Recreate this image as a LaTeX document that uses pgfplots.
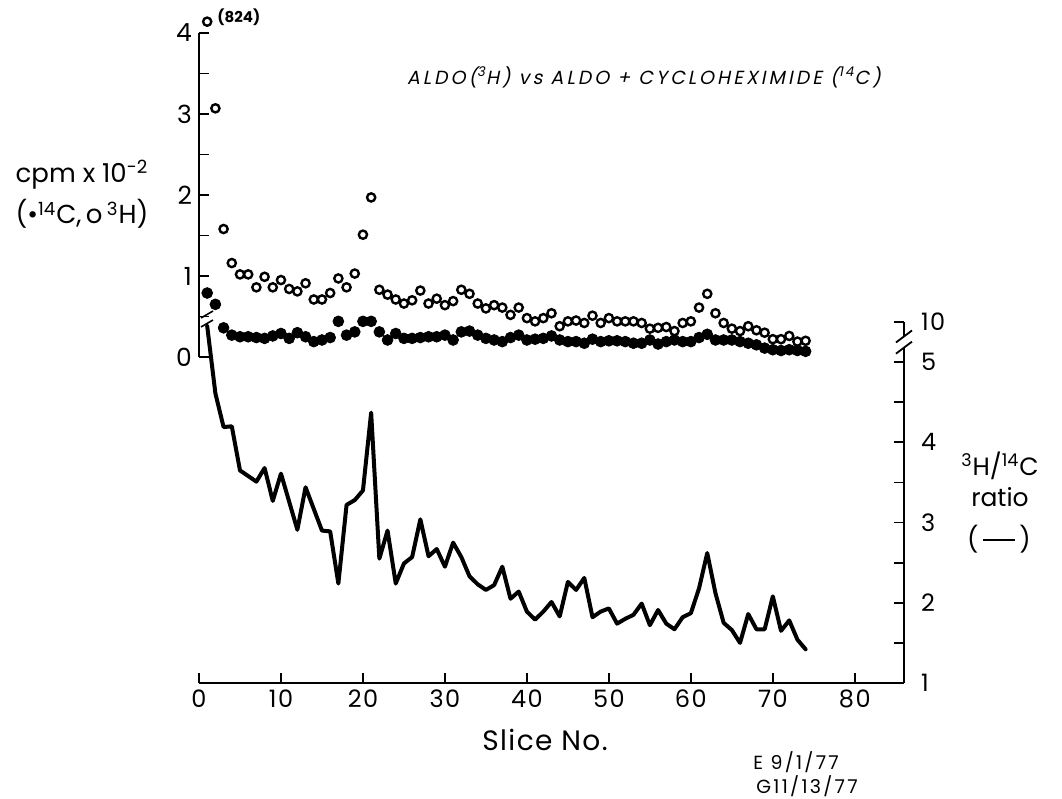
\documentclass[border=0pt]{standalone}
\usepackage{fontspec}
\setmainfont{Poppins}
\newfontfamily\slantfont[FakeSlant=0.2,LetterSpace=16]{Poppins}
\newfontfamily\datefont[LetterSpace=12]{Poppins}
\newfontfamily\slicefont[LetterSpace=5]{Poppins}
\newfontfamily\tickfont[LetterSpace=6]{Poppins}
\usepackage{pgfplots}
\pgfplotsset{compat=1.18}
\usepackage{pgfplotstable}

\pgfplotstableread{
s r
1 5.45
2 4.61
3 4.19
4 4.20
5 3.65
6 3.58
7 3.51
8 3.68
9 3.27
10 3.61
11 3.26
12 2.91
13 3.44
14 3.17
15 2.90
16 2.89
17 2.24
18 3.22
19 3.28
20 3.40
21 4.37
22 2.55
23 2.90
24 2.24
25 2.49
26 2.57
27 3.04
28 2.58
29 2.67
30 2.45
31 2.75
32 2.57
33 2.33
34 2.23
35 2.16
36 2.22
37 2.45
38 2.05
39 2.14
40 1.89
41 1.79
42 1.89
43 2.01
44 1.83
45 2.26
46 2.16
47 2.31
48 1.82
49 1.89
50 1.93
51 1.74
52 1.80
53 1.85
54 1.99
55 1.72
56 1.91
57 1.74
58 1.67
59 1.82
60 1.87
61 2.18
62 2.62
63 2.12
64 1.75
65 1.66
66 1.50
67 1.86
68 1.67
69 1.67
70 2.08
71 1.65
72 1.78
73 1.54
74 1.42
}\ratiotab

\pgfplotstableread{
s h c
1 4.14 0.79
2 3.07 0.65
3 1.58 0.36
4 1.16 0.27
5 1.02 0.25
6 1.02 0.25
7 0.86 0.24
8 0.99 0.23
9 0.86 0.26
10 0.95 0.29
11 0.84 0.23
12 0.81 0.30
13 0.91 0.25
14 0.71 0.19
15 0.71 0.21
16 0.79 0.24
17 0.97 0.44
18 0.86 0.27
19 1.03 0.31
20 1.51 0.44
21 1.97 0.44
22 0.83 0.31
23 0.77 0.21
24 0.71 0.29
25 0.66 0.23
26 0.70 0.23
27 0.82 0.24
28 0.66 0.25
29 0.72 0.25
30 0.64 0.27
31 0.69 0.21
32 0.83 0.31
33 0.78 0.32
34 0.66 0.27
35 0.60 0.23
36 0.64 0.21
37 0.61 0.19
38 0.52 0.24
39 0.61 0.27
40 0.48 0.21
41 0.44 0.22
42 0.48 0.23
43 0.54 0.26
44 0.38 0.21
45 0.44 0.19
46 0.45 0.19
47 0.42 0.17
48 0.51 0.22
49 0.42 0.19
50 0.48 0.20
51 0.44 0.20
52 0.44 0.19
53 0.44 0.17
54 0.42 0.17
55 0.35 0.21
56 0.36 0.16
57 0.37 0.19
58 0.32 0.21
59 0.42 0.19
60 0.44 0.19
61 0.61 0.24
62 0.78 0.28
63 0.54 0.21
64 0.42 0.21
65 0.35 0.21
66 0.32 0.19
67 0.38 0.17
68 0.33 0.15
69 0.30 0.11
70 0.22 0.09
71 0.22 0.08
72 0.26 0.09
73 0.19 0.08
74 0.20 0.07
}\cpmtab

\begin{document}
\begin{tikzpicture}
\useasboundingbox (0,0) rectangle (531pt,399.5pt);

% ratio axis (right) with slice axis (bottom)
\begin{axis}[
  at={(99.5pt,58pt)}, anchor=south west,
  scale only axis, width=352.5pt, height=180.5pt,
  xmin=0, xmax=86, ymin=1, ymax=5.5,
  axis x line=bottom, axis y line=right,
  axis line style={line width=1.1pt,-},
  tick align=inside, major tick length=5pt,
  tick style={line width=0.9pt,black},
  xtick={0,10,...,80},
  ytick={1,1.5,...,5.5}, yticklabels={1,,2,,3,,4,,5,10},
  ticklabel style={font=\tickfont\fontsize{12}{12}\selectfont},
  /pgf/number format/assume math mode=true,
  yticklabel style={xshift=5pt},
  clip=false,
]
\addplot[black, line width=2pt, line join=round, line cap=round] table[x=s,y=r]{\ratiotab};
% axis break marks on the right axis
\draw[white, line width=3pt] (axis cs:86,5.17) -- (axis cs:86,5.33);
\draw[black, line width=0.9pt] ([xshift=-4pt,yshift=-3pt]axis cs:86,5.18) -- ([xshift=4pt,yshift=3pt]axis cs:86,5.18);
\draw[black, line width=0.9pt] ([xshift=-4pt,yshift=-3pt]axis cs:86,5.32) -- ([xshift=4pt,yshift=3pt]axis cs:86,5.32);
\end{axis}

% cpm axis (left)
\begin{axis}[
  at={(99.5pt,221pt)}, anchor=south west,
  scale only axis, width=352.5pt, height=162pt,
  xmin=0, xmax=86, ymin=0, ymax=4,
  axis x line=none, axis y line=left,
  axis line style={line width=1.1pt,-},
  tick align=inside, major tick length=5pt,
  tick style={line width=0.9pt,black},
  ytick={0,0.5,...,4}, yticklabels={0,,1,,2,,3,,4},
  ticklabel style={font=\tickfont\fontsize{12.5}{12}\selectfont},
  clip=false,
]
\addplot[only marks, mark=*, mark size=2.7pt, black] table[x=s,y=c]{\cpmtab};
\addplot[only marks, mark=*, mark size=2.05pt, mark options={draw=black, fill=white, line width=1.2pt}] table[x=s,y=h]{\cpmtab};
\node[anchor=west, inner sep=0pt, font=\bfseries\fontsize{7.5}{8}\selectfont] at (axis cs:2.2,4.19) {(824)};
\end{axis}

% break mark on ratio line
\draw[line width=0.8pt] (100.5pt,236pt) -- (106.5pt,239.5pt);
\draw[line width=0.8pt] (100.5pt,240.5pt) -- (106.5pt,244pt);

% texts
\node[font=\fontsize{13}{14}\selectfont] at (41pt,312pt) {cpm x 10\textsuperscript{-2}};
\node[font=\fontsize{13}{14}\selectfont] at (41pt,292.5pt) {(•\textsuperscript{14}C,\,o\,\textsuperscript{3}H)};
\node[anchor=west, font=\slantfont\fontsize{9.5}{10}\selectfont] at (200pt,361pt) {ALDO(\textsuperscript{3}H) vs ALDO + CYCLOHEXIMIDE (\textsuperscript{14}C)};
\node[font=\fontsize{12.5}{13}\selectfont] at (500pt,166.5pt) {\textsuperscript{3}H/\textsuperscript{14}C};
\node[font=\fontsize{12.5}{13}\selectfont] at (500pt,151pt) {ratio};
\node[font=\fontsize{12.5}{13}\selectfont] at (499.5pt,130pt) {(\,\rule[0.28em]{1.3em}{1.1pt}\,)};
\node[font=\slicefont\fontsize{14}{15}\selectfont] at (272.5pt,29.5pt) {Slice No.};
\node[anchor=base west, inner sep=0pt, font=\datefont\fontsize{9.5}{10}\selectfont] at (376.5pt,14.5pt) {E 9/1/77};
\node[anchor=base west, inner sep=0pt, font=\datefont\fontsize{9.5}{10}\selectfont] at (378pt,2.6pt) {G11/13/77};
\end{tikzpicture}
\end{document}
